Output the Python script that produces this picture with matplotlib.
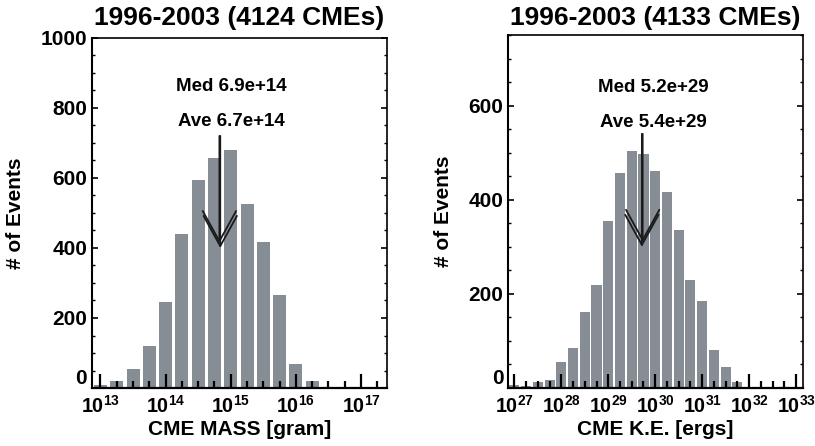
import numpy as np
import matplotlib
matplotlib.use('Agg')
import matplotlib.pyplot as plt
from matplotlib.ticker import FixedLocator, NullFormatter, FuncFormatter

plt.rcParams['font.family'] = ['Liberation Sans', 'DejaVu Sans']
plt.rcParams['font.weight'] = 'bold'
plt.rcParams['mathtext.fontset'] = 'custom'
plt.rcParams['mathtext.rm'] = 'Liberation Sans:bold'
plt.rcParams['mathtext.it'] = 'Liberation Sans:bold'
plt.rcParams['mathtext.bf'] = 'Liberation Sans:bold'

# Mass histogram (bin centres in log10 gram, 0.25 dex bins)
mass_log_centres = [13.0, 13.25, 13.5, 13.75, 14.0, 14.25, 14.5, 14.75,
                    15.0, 15.25, 15.5, 15.75, 16.0, 16.25]
mass_counts = [10, 21, 53, 120, 245, 441, 593, 656, 679, 526, 416, 266, 68, 19]
mass_med, mass_ave = 6.9e14, 6.7e14

# Kinetic energy histogram (bin centres in log10 erg)
ke_log_centres = [27.0, 27.25, 27.5, 27.75, 28.0, 28.25, 28.5, 28.75,
                  29.0, 29.25, 29.5, 29.75, 30.0, 30.25, 30.5, 30.75,
                  31.0, 31.25, 31.5, 31.75]
ke_counts = [6, 4, 12, 18, 55, 86, 161, 219, 354, 457, 504, 497, 462, 416,
             336, 229, 184, 81, 45, 13]
ke_med, ke_ave = 5.2e29, 5.4e29

bar_color = '#868d95'

fig = plt.figure(figsize=(8.15, 4.46), dpi=100)
ax1 = fig.add_axes([0.1129, 0.130, 0.362, 0.785])
ax2 = fig.add_axes([0.6237, 0.130, 0.3612, 0.7915])


def draw_panel(ax, centres, counts, frac, xlo, xhi, decades, ymax, ymajor,
               title, xlabel, med, ave, title_pad, txt_y):
    c = np.array(centres)
    half = 0.125 * frac
    left = 10 ** (c - half)
    width = 10 ** (c + half) - left
    ax.bar(left, counts, width=width, align='edge', color=bar_color,
           linewidth=0, zorder=1)
    ax.set_xscale('log')
    ax.set_xlim(10 ** xlo, 10 ** xhi)
    ax.set_ylim(0, ymax)

    ax.xaxis.set_major_locator(FixedLocator(10.0 ** np.array(decades)))
    q = np.arange(np.ceil(xlo * 4) / 4, xhi, 0.25)
    q = [v for v in q if abs(v - round(v)) > 1e-6]
    ax.xaxis.set_minor_locator(FixedLocator(10.0 ** np.array(q)))
    ax.xaxis.set_major_formatter(FuncFormatter(
        lambda v, p: r'$10^{%d}$' % int(round(np.log10(v)))))
    ax.xaxis.set_minor_formatter(NullFormatter())
    ax.set_yticks(ymajor)
    ax.yaxis.set_minor_locator(FixedLocator(np.arange(0, ymax + 1, 50)))

    ax.tick_params(axis='x', which='major', direction='in', length=10,
                   width=1.6, top=False, labelsize=14.2, pad=5)
    ax.tick_params(axis='x', which='minor', direction='in', length=5,
                   width=1.6, top=False)
    ax.tick_params(axis='y', which='major', direction='in', length=4.5,
                   width=1.2, right=True, labelsize=15, pad=3.6)
    ax.tick_params(axis='y', which='minor', direction='in', length=2.2,
                   width=1.0, right=True)
    # the "0" label sits just above the bottom axis
    ax.yaxis.get_major_ticks()[0].label1.set_va('bottom')
    for s in ax.spines.values():
        s.set_linewidth(1.2)
    ax.spines['bottom'].set_linewidth(1.6)
    ax.spines['left'].set_linewidth(1.5)

    ax.set_title(title, fontsize=19, fontweight='bold', pad=title_pad)
    ax.set_xlabel(xlabel, fontsize=15, fontweight='bold', labelpad=2)
    ax.set_ylabel('# of Events', fontsize=15, fontweight='bold', labelpad=11)

    # two overlapping arrows (median and average)
    for xv, tip in ((med, 0.40), (ave, 0.414)):
        ax.annotate('', xy=(xv, tip), xytext=(xv, 0.72),
                    xycoords=('data', 'axes fraction'),
                    textcoords=('data', 'axes fraction'),
                    arrowprops=dict(arrowstyle='->,head_length=1.45,head_width=0.8',
                                    mutation_scale=15, lw=1.3, color='#1a1a1a',
                                    shrinkA=0, shrinkB=0))
    ax.annotate('Med %.1e' % med, xy=(med, txt_y[0]),
                xycoords=('data', 'axes fraction'), xytext=(8.3, 0),
                textcoords='offset points', ha='center', va='baseline',
                fontsize=13.5, fontweight='bold')
    ax.annotate('Ave %.1e' % ave, xy=(med, txt_y[1]),
                xycoords=('data', 'axes fraction'), xytext=(8.3, 0),
                textcoords='offset points', ha='center', va='baseline',
                fontsize=13.5, fontweight='bold')


draw_panel(ax1, mass_log_centres, mass_counts, 0.8, 12.87, 17.40,
           range(13, 18), 1000, [0, 200, 400, 600, 800, 1000],
           '1996-2003 (4124 CMEs)', 'CME MASS [gram]', mass_med, mass_ave,
           9.4, (0.847, 0.747))
draw_panel(ax2, ke_log_centres, ke_counts, 0.86, 26.872, 33.14,
           range(27, 34), 750, [0, 200, 400, 600],
           '1996-2003 (4133 CMEs)', 'CME K.E. [ergs]', ke_med, ke_ave,
           7.2, (0.839, 0.740))

fig.savefig('out.png', dpi=100)
